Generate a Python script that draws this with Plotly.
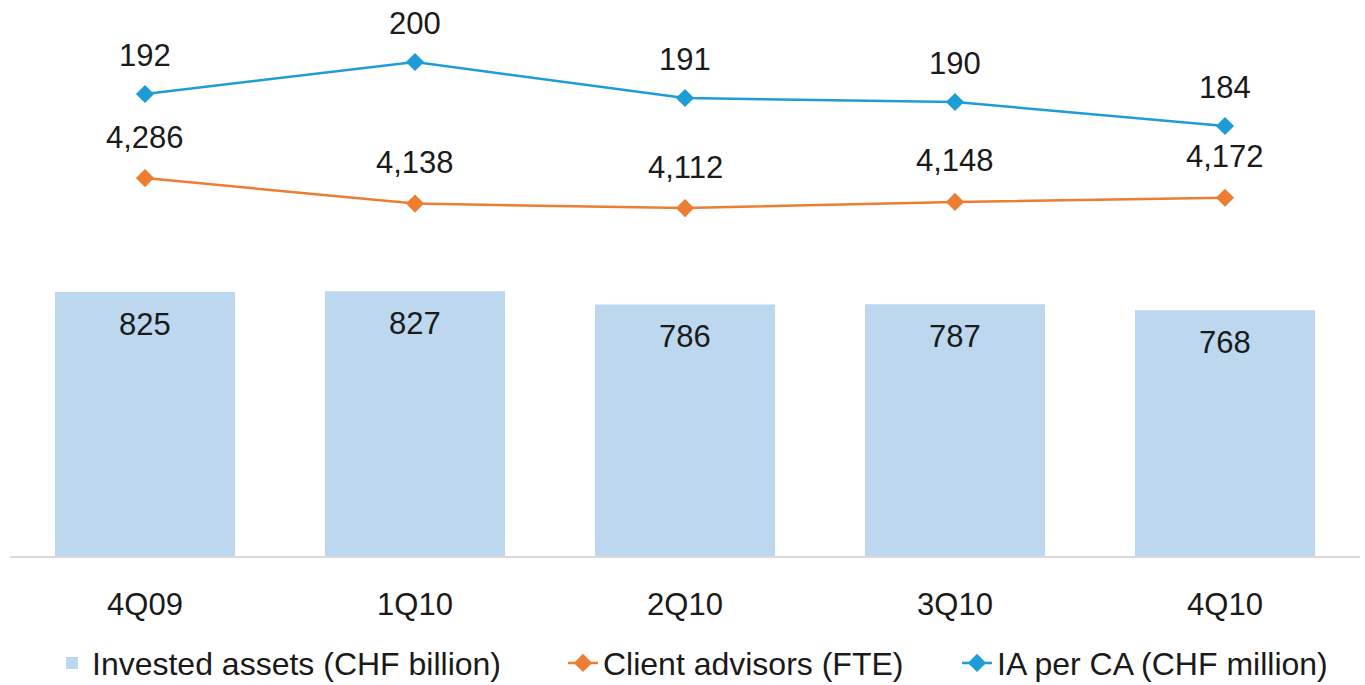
import plotly.graph_objects as go

quarters = ["4Q09", "1Q10", "2Q10", "3Q10", "4Q10"]
invested_assets = [825, 827, 786, 787, 768]
client_advisors = [4286, 4138, 4112, 4148, 4172]
ia_per_ca = [192, 200, 191, 190, 184]

BAR_C = "#bdd7ee"
ORANGE = "#ed7d31"
BLUE = "#1d9cd8"
FONT = "Liberation Sans, Arial, sans-serif"
TXT = "#1a1a1a"

fig = go.Figure()
fig.add_trace(go.Bar(x=quarters, y=invested_assets, name="Invested assets (CHF billion)",
                     marker=dict(color=BAR_C, line=dict(width=0)), yaxis="y", hoverinfo="skip",
                     legend="legend"))
fig.add_trace(go.Scatter(x=quarters, y=client_advisors, name="Client advisors (FTE)", mode="lines+markers",
                         line=dict(color=ORANGE, width=2.5), marker=dict(symbol="diamond", size=14, color=ORANGE),
                         yaxis="y2", legend="legend2"))
fig.add_trace(go.Scatter(x=quarters, y=ia_per_ca, name="IA per CA (CHF million)", mode="lines+markers",
                         line=dict(color=BLUE, width=2.5), marker=dict(symbol="diamond", size=14, color=BLUE),
                         yaxis="y3", legend="legend3"))

annotations = []
for q, v in zip(quarters, invested_assets):
    annotations.append(dict(x=q, y=v, xref="x", yref="y", text=f"{v:,}", showarrow=False,
                            yshift=-32, font=dict(size=31, color=TXT, family=FONT)))
for q, v in zip(quarters, client_advisors):
    annotations.append(dict(x=q, y=v, xref="x", yref="y2", text=f"{v:,}", showarrow=False,
                            yshift=41, font=dict(size=31, color=TXT, family=FONT)))
for q, v in zip(quarters, ia_per_ca):
    annotations.append(dict(x=q, y=v, xref="x", yref="y3", text=f"{v:,}", showarrow=False,
                            yshift=39, font=dict(size=31, color=TXT, family=FONT)))

leg_common = dict(orientation="h", xanchor="left", yref="container", y=0.032, yanchor="middle",
                  font=dict(size=32, family=FONT, color=TXT), bgcolor="rgba(0,0,0,0)")

fig.update_layout(
    width=1365, height=685,
    margin=dict(l=10, r=5, t=0, b=129, autoexpand=False),
    paper_bgcolor="white", plot_bgcolor="white",
    bargap=0.333,
    font=dict(family=FONT, color=TXT),
    xaxis=dict(type="category", range=[-0.5, 4.5], showgrid=False, showline=True, linecolor="#d9d9d9",
               linewidth=1.5, ticks="", tickfont=dict(size=31), ticklabelstandoff=20),
    yaxis=dict(range=[0, 1737.5], visible=False, showgrid=False),
    yaxis2=dict(range=[2094, 5319], overlaying="y", visible=False, showgrid=False),
    yaxis3=dict(range=[76.5, 215.5], overlaying="y", visible=False, showgrid=False),
    legend=dict(x=0.0311, **leg_common),
    legend2=dict(x=0.4096, **leg_common),
    legend3=dict(x=0.7015, **leg_common),
    showlegend=True,
    annotations=annotations,
)

fig.write_html("out.html", config={"displayModeBar": False},
               post_script="document.body.style.margin='0';document.body.style.overflow='hidden';")
